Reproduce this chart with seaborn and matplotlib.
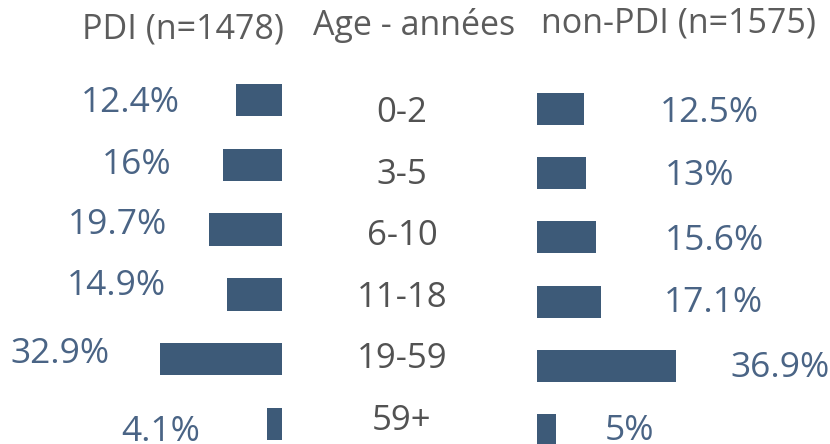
import matplotlib
matplotlib.use("Agg")
import matplotlib.pyplot as plt
import seaborn as sns
import pandas as pd

# Age distribution: internally displaced (PDI) vs. non-displaced
age_groups = ["0-2", "3-5", "6-10", "11-18", "19-59", "59+"]
pdi_pct = [12.4, 16, 19.7, 14.9, 32.9, 4.1]
non_pdi_pct = [12.5, 13, 15.6, 17.1, 36.9, 5]
pdi_title = "PDI (n=1478)"
age_title = "Age - années"
non_pdi_title = "non-PDI (n=1575)"

sns.set_theme(style="white")
plt.rcParams["font.family"] = ["Open Sans", "DejaVu Sans"]

BAR = "#3d5a78"
PCT = "#4a6485"
HEAD = "#5c5c5c"
AGE = "#525252"

W, H = 830, 444
fig = plt.figure(figsize=(W / 100, H / 100), dpi=100)


def fmt(v):
    return f"{v:g}%"


def full_axes():
    ax = fig.add_axes([0, 0, 1, 1])
    ax.set_axis_off()
    return ax


# Layout (pixels): bar baseline, pixels per percent, first row centre, row pitch
L_ZERO, L_SCALE, L_ROW0, L_PITCH = 282, 3.71, 100, 64.8
R_ZERO, R_SCALE, R_ROW0, R_PITCH = 537, 3.767, 109, 64.2
M_X, M_ROW0, M_PITCH = 402, 110, 61.4

# Hand-tuned label nudges in pixels (dx, dy down) relative to the bar end
left_nudge = [(-56, 0), (-51, -3), (-42, -8), (-61, -12), (-50, -9), (-67, 4)]
right_nudge = [(76, 1), (79, -1), (69, 0), (62, -2), (54, -1), (49, -3)]
half_digit = 12.5  # half of the digit height, to centre labels on a baseline

PCT_SIZE = 25.5
AGE_SIZE = 25
HEAD_SIZE = 24.5

df_l = pd.DataFrame({"age": age_groups, "pct": pdi_pct})
df_r = pd.DataFrame({"age": age_groups, "pct": non_pdi_pct})

# Left panel: bars grow leftwards from the shared baseline
axl = full_axes()
sns.barplot(data=df_l, x="pct", y="age", orient="h", ax=axl, color=BAR,
            saturation=1, width=0.5, linewidth=0)
axl.set_xlim(L_ZERO / L_SCALE, -(W - L_ZERO) / L_SCALE)
axl.set_ylim((H - L_ROW0) / L_PITCH, -L_ROW0 / L_PITCH)
axl.set_axis_off()
for i, v in enumerate(pdi_pct):
    dx, dy = left_nudge[i]
    axl.annotate(fmt(v), (v, i), xytext=(dx, -dy - half_digit),
                 textcoords="offset pixels", ha="right", va="baseline",
                 fontsize=PCT_SIZE, color=PCT)

# Right panel: bars grow rightwards
axr = full_axes()
sns.barplot(data=df_r, x="pct", y="age", orient="h", ax=axr, color=BAR,
            saturation=1, width=0.5, linewidth=0)
axr.set_xlim(-R_ZERO / R_SCALE, (W - R_ZERO) / R_SCALE)
axr.set_ylim((H - R_ROW0) / R_PITCH, -R_ROW0 / R_PITCH)
axr.set_axis_off()
for i, v in enumerate(non_pdi_pct):
    dx, dy = right_nudge[i]
    axr.annotate(fmt(v), (v, i), xytext=(dx, -dy - half_digit),
                 textcoords="offset pixels", ha="left", va="baseline",
                 fontsize=PCT_SIZE, color=PCT)

# Middle column: age group labels
axm = full_axes()
axm.set_xlim(0, W)
axm.set_ylim((H - M_ROW0) / M_PITCH, -M_ROW0 / M_PITCH)
for i, a in enumerate(age_groups):
    axm.annotate(a, (M_X, i), xytext=(0, -half_digit), textcoords="offset pixels",
                 ha="center", va="baseline", fontsize=AGE_SIZE, color=AGE)

# Column headers
for txt, cx, base in [(pdi_title, 182.5, 38), (age_title, 414, 35),
                      (non_pdi_title, 678.5, 33)]:
    fig.text(cx / W, 1 - base / H, txt, ha="center", va="baseline",
             fontsize=HEAD_SIZE, color=HEAD)

fig.savefig("out.png", dpi=100, facecolor="white")
